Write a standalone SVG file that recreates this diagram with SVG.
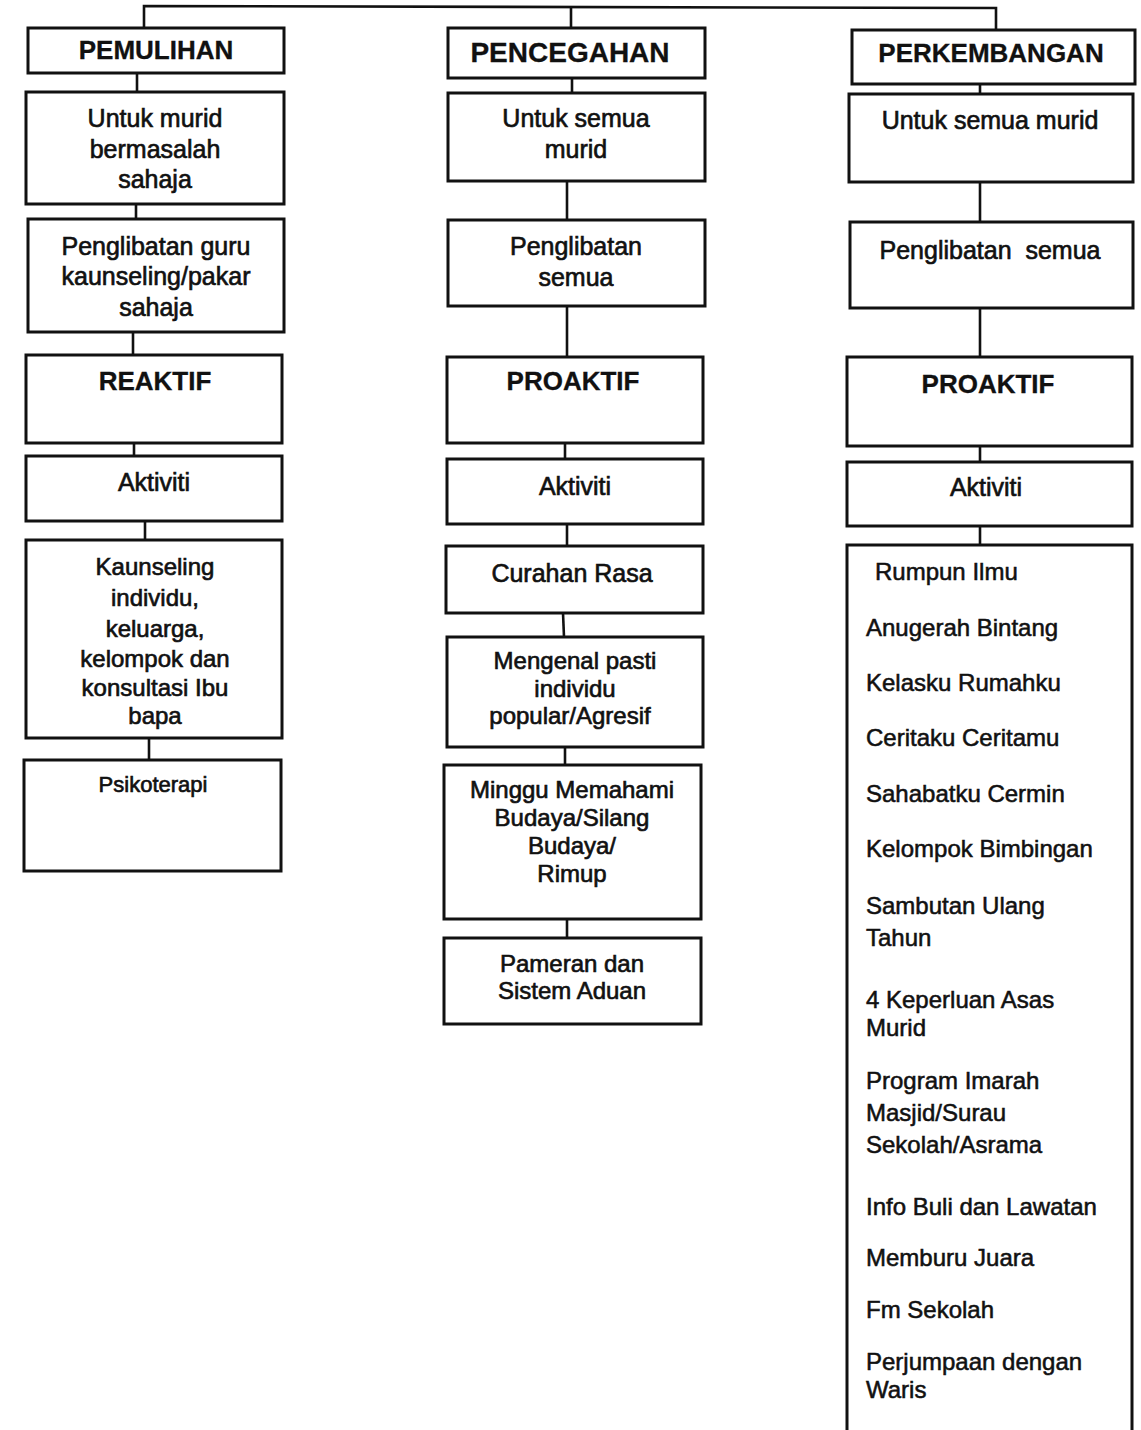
<svg xmlns="http://www.w3.org/2000/svg" width="1141" height="1430" viewBox="0 0 1141 1430">
<style>
.bg{fill:#fff}
.box{fill:#fff;stroke:#111;stroke-width:3}
.con{fill:none;stroke:#111;stroke-width:2.6}
.t{font-family:"Liberation Sans",Arial,sans-serif;font-size:25px;fill:#111;text-anchor:middle;stroke:#111;stroke-width:0.65}
.h{font-family:"Liberation Sans",Arial,sans-serif;font-size:26px;font-weight:bold;fill:#111;text-anchor:middle;stroke:#111;stroke-width:0.3}
.s{font-size:24px}
.l{font-family:"Liberation Sans",Arial,sans-serif;font-size:24px;fill:#111;text-anchor:start;stroke:#111;stroke-width:0.55}
</style>
<rect class="bg" x="0" y="0" width="1141" height="1430"/>
<g id="connectors">
<polyline class="con" points="144,28 144,6 996,8 996,30"/>
<line class="con" x1="571" y1="6" x2="571" y2="28"/>
<line class="con" x1="137" y1="73" x2="137" y2="92"/>
<line class="con" x1="136" y1="204" x2="136" y2="219"/>
<line class="con" x1="133" y1="332" x2="133" y2="355"/>
<line class="con" x1="134" y1="443" x2="134" y2="456"/>
<line class="con" x1="145" y1="521" x2="145" y2="540"/>
<line class="con" x1="149" y1="738" x2="149" y2="760"/>
<line class="con" x1="572" y1="78" x2="572" y2="93"/>
<line class="con" x1="567" y1="181" x2="567" y2="220"/>
<line class="con" x1="567" y1="306" x2="567" y2="357"/>
<line class="con" x1="565" y1="443" x2="565" y2="459"/>
<line class="con" x1="567" y1="524" x2="567" y2="546"/>
<line class="con" x1="563" y1="613" x2="564" y2="637"/>
<line class="con" x1="565" y1="747" x2="565" y2="765"/>
<line class="con" x1="567" y1="919" x2="567" y2="938"/>
<line class="con" x1="980" y1="84" x2="980" y2="94"/>
<line class="con" x1="980" y1="182" x2="980" y2="222"/>
<line class="con" x1="980" y1="308" x2="980" y2="357"/>
<line class="con" x1="980" y1="446" x2="980" y2="462"/>
<line class="con" x1="980" y1="526" x2="980" y2="545"/>
</g>
<g id="pemulihan"><rect class="box" x="28" y="28" width="256" height="45"/><text class="h" x="156" y="59">PEMULIHAN</text></g>
<g id="untuk-murid-bermasalah"><rect class="box" x="26" y="92" width="258" height="112"/><text class="t" x="155" y="127">Untuk murid</text><text class="t" x="155" y="158">bermasalah</text><text class="t" x="155" y="188">sahaja</text></g>
<g id="penglibatan-guru"><rect class="box" x="28" y="219" width="256" height="113"/><text class="t" x="156" y="255">Penglibatan guru</text><text class="t" x="156" y="285">kaunseling/pakar</text><text class="t" x="156" y="316">sahaja</text></g>
<g id="reaktif"><rect class="box" x="26" y="355" width="256" height="88"/><text class="h" x="155" y="390">REAKTIF</text></g>
<g id="aktiviti-1"><rect class="box" x="26" y="456" width="256" height="65"/><text class="t" x="154" y="491">Aktiviti</text></g>
<g id="kaunseling"><rect class="box" x="26" y="540" width="256" height="198"/><text class="t s" x="155" y="575">Kaunseling</text><text class="t s" x="155" y="606">individu,</text><text class="t s" x="155" y="637">keluarga,</text><text class="t s" x="155" y="667">kelompok dan</text><text class="t s" x="155" y="696">konsultasi Ibu</text><text class="t s" x="155" y="724">bapa</text></g>
<g id="psikoterapi"><rect class="box" x="24" y="760" width="257" height="111"/><text class="t" style="font-size:22px" x="153" y="792">Psikoterapi</text></g>
<g id="pencegahan"><rect class="box" x="448" y="28" width="257" height="50"/><text class="h" style="font-size:28px" x="570" y="62">PENCEGAHAN</text></g>
<g id="untuk-semua-murid-2"><rect class="box" x="448" y="93" width="257" height="88"/><text class="t" x="576" y="127">Untuk semua</text><text class="t" x="576" y="158">murid</text></g>
<g id="penglibatan-semua-2"><rect class="box" x="448" y="220" width="257" height="86"/><text class="t" x="576" y="255">Penglibatan</text><text class="t" x="576" y="286">semua</text></g>
<g id="proaktif-2"><rect class="box" x="447" y="357" width="256" height="86"/><text class="h" x="573" y="390">PROAKTIF</text></g>
<g id="aktiviti-2"><rect class="box" x="447" y="459" width="256" height="65"/><text class="t" x="575" y="495">Aktiviti</text></g>
<g id="curahan-rasa"><rect class="box" x="446" y="546" width="257" height="67"/><text class="t" x="572" y="582">Curahan Rasa</text></g>
<g id="mengenal-pasti"><rect class="box" x="447" y="637" width="256" height="110"/><text class="t s" x="575" y="669">Mengenal pasti</text><text class="t s" x="575" y="697">individu</text><text class="t s" x="570" y="724">popular/Agresif</text></g>
<g id="minggu-memahami"><rect class="box" x="444" y="765" width="257" height="154"/><text class="t s" x="572" y="798">Minggu Memahami</text><text class="t s" x="572" y="826">Budaya/Silang</text><text class="t s" x="572" y="854">Budaya/</text><text class="t s" x="572" y="882">Rimup</text></g>
<g id="pameran"><rect class="box" x="444" y="938" width="257" height="86"/><text class="t s" x="572" y="972">Pameran dan</text><text class="t s" x="572" y="999">Sistem Aduan</text></g>
<g id="perkembangan"><rect class="box" x="852" y="30" width="283" height="54"/><text class="h" x="991" y="62">PERKEMBANGAN</text></g>
<g id="untuk-semua-murid-3"><rect class="box" x="849" y="94" width="284" height="88"/><text class="t" x="990" y="129">Untuk semua murid</text></g>
<g id="penglibatan-semua-3"><rect class="box" x="850" y="222" width="283" height="86"/><text class="t" x="990" y="259" xml:space="preserve">Penglibatan  semua</text></g>
<g id="proaktif-3"><rect class="box" x="847" y="357" width="285" height="89"/><text class="h" x="988" y="393">PROAKTIF</text></g>
<g id="aktiviti-3"><rect class="box" x="847" y="462" width="285" height="64"/><text class="t" x="986" y="496">Aktiviti</text></g>
<g id="aktiviti-list"><rect class="box" x="847" y="545" width="285" height="900"/>
<text class="l" x="875" y="580">Rumpun Ilmu</text>
<text class="l" x="866" y="636">Anugerah Bintang</text>
<text class="l" x="866" y="691">Kelasku Rumahku</text>
<text class="l" x="866" y="746">Ceritaku Ceritamu</text>
<text class="l" x="866" y="802">Sahabatku Cermin</text>
<text class="l" x="866" y="857">Kelompok Bimbingan</text>
<text class="l" x="866" y="914">Sambutan Ulang</text>
<text class="l" x="866" y="946">Tahun</text>
<text class="l" x="866" y="1008">4 Keperluan Asas</text>
<text class="l" x="866" y="1036">Murid</text>
<text class="l" x="866" y="1089">Program Imarah</text>
<text class="l" x="866" y="1121">Masjid/Surau</text>
<text class="l" x="866" y="1153">Sekolah/Asrama</text>
<text class="l" x="866" y="1215">Info Buli dan Lawatan</text>
<text class="l" x="866" y="1266">Memburu Juara</text>
<text class="l" x="866" y="1318">Fm Sekolah</text>
<text class="l" x="866" y="1370">Perjumpaan dengan</text>
<text class="l" x="866" y="1398">Waris</text>
</g>
</svg>
